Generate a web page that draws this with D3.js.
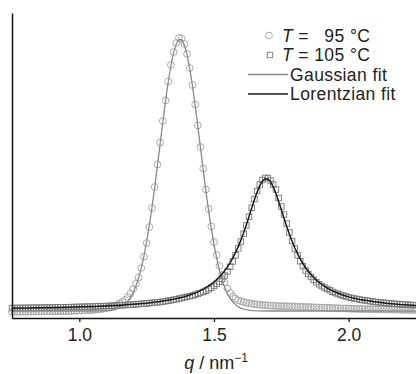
<!DOCTYPE html>
<html>
<head>
<meta charset="utf-8">
<script src="https://cdn.jsdelivr.net/npm/d3@7"></script>
<style>
  html, body { margin: 0; padding: 0; background: #fff; }
  svg { display: block; font-family: "Liberation Sans", Arial, sans-serif; }
</style>
</head>
<body>
<svg id="chart" width="416" height="374"></svg>
<script>
// ---- data (intensity in arbitrary units) ----
const q = [0.75,0.76,0.77,0.78,0.79,0.80,0.81,0.82,0.83,0.84,0.85,0.86,0.87,0.88,0.89,0.90,0.91,0.92,0.93,0.94,
0.95,0.96,0.97,0.98,0.99,1.00,1.01,1.02,1.03,1.04,1.05,1.06,1.07,1.08,1.09,1.10,1.11,1.12,1.13,1.14,
1.15,1.16,1.17,1.18,1.19,1.20,1.21,1.22,1.23,1.24,1.25,1.26,1.27,1.28,1.29,1.30,1.31,1.32,1.33,1.34,
1.35,1.36,1.37,1.38,1.39,1.40,1.41,1.42,1.43,1.44,1.45,1.46,1.47,1.48,1.49,1.50,1.51,1.52,1.53,1.54,
1.55,1.56,1.57,1.58,1.59,1.60,1.61,1.62,1.63,1.64,1.65,1.66,1.67,1.68,1.69,1.70,1.71,1.72,1.73,1.74,
1.75,1.76,1.77,1.78,1.79,1.80,1.81,1.82,1.83,1.84,1.85,1.86,1.87,1.88,1.89,1.90,1.91,1.92,1.93,1.94,
1.95,1.96,1.97,1.98,1.99,2.00,2.01,2.02,2.03,2.04,2.05,2.06,2.07,2.08,2.09,2.10,2.11,2.12,2.13,2.14,
2.15,2.16,2.17,2.18,2.19,2.20,2.21,2.22,2.23,2.24,2.25];

// T = 95 °C (circles)
const intensity95 = [62,62,62,63,63,63,63,64,64,64,65,65,65,66,66,67,67,68,68,69,
70,70,71,72,73,74,75,76,78,79,81,83,86,89,93,98,104,111,120,131,
144,160,181,210,246,290,342,405,500,615,750,910,1100,1310,1535,1755,1970,2175,2365,2530,
2660,2750,2800,2795,2740,2640,2500,2330,2135,1925,1710,1495,1285,1090,915,760,630,520,430,355,
295,250,215,193,178,168,160,153,148,143,139,136,133,130,128,126,124,123,121,120,
119,118,117,116,115,114,113,112,111,110,109,108,107,106,105,104,103,102,101,100,
99,98,97,96,95,94,93,92,91,90,90,89,89,88,88,87,87,86,86,85,
85,84,84,83,83,82,82,81,81,80,80];

// T = 105 °C (squares)
const intensity105 = [100,100,100,101,101,101,102,102,102,103,103,103,104,104,105,105,106,106,107,107,
108,108,109,110,110,111,112,112,113,114,115,116,117,118,119,120,121,122,124,125,
126,128,129,131,133,135,137,139,141,143,146,149,152,155,158,160,164,168,173,178,
183,188,194,200,206,212,218,225,233,242,251,261,273,287,303,321,341,364,392,425,
465,512,566,627,695,765,843,926,1013,1102,1190,1270,1335,1380,1400,1400,1375,1335,1285,1200,
1115,1035,945,855,770,695,628,568,518,475,440,410,383,359,338,319,304,290,277,262,
250,240,231,223,215,208,201,195,190,185,180,176,172,168,164,161,158,155,152,149,
147,144,142,140,138,136,134,132,130,129,127];

// Gaussian fit (T = 95 °C)
const gaussFitQ = [0.75,1.00,1.05,1.08,1.09,1.10,1.11,1.12,1.13,1.14,1.15,1.16,1.17,1.18,1.19,1.20,1.21,1.22,1.23,1.24,
1.25,1.26,1.27,1.28,1.29,1.30,1.31,1.32,1.33,1.34,1.35,1.36,1.37,1.38,1.39,1.40,1.41,1.42,1.43,1.44,
1.45,1.46,1.47,1.48,1.49,1.50,1.51,1.52,1.53,1.54,1.55,1.56,1.57,1.58,1.59,1.60,1.61,1.62,1.63,1.64,
1.65,1.66,1.67,1.70,2.25];
const gaussFit = [70,70,70,71,72,74,76,79,84,91,101,116,137,166,204,254,319,400,501,621,
763,927,1110,1310,1523,1742,1960,2169,2360,2524,2654,2743,2786,2781,2729,2631,2494,2324,2128,1917,
1698,1480,1269,1072,893,733,596,479,383,305,243,196,159,133,113,99,89,83,78,75,
73,72,71,70,70];

// Lorentzian fit (T = 105 °C)
const lorentzFitQ = [0.75,0.80,0.85,0.90,0.95,1.00,1.05,1.10,1.15,1.20,1.25,1.30,1.35,1.39,1.41,1.43,1.45,1.47,1.49,1.50,
1.51,1.52,1.53,1.54,1.55,1.56,1.57,1.58,1.59,1.60,1.61,1.62,1.63,1.64,1.65,1.66,1.67,1.68,1.69,1.70,
1.71,1.72,1.73,1.74,1.75,1.76,1.77,1.78,1.79,1.80,1.81,1.82,1.83,1.84,1.85,1.86,1.87,1.88,1.89,1.90,
1.92,1.94,1.96,1.98,2.00,2.04,2.09,2.14,2.19,2.25];
const lorentzFit = [100,101,103,106,108,112,116,121,128,137,148,164,187,213,230,249,273,303,339,360,
384,410,440,474,511,554,601,655,714,780,853,931,1014,1099,1183,1259,1324,1370,1393,1390,
1362,1312,1245,1166,1082,998,915,838,767,702,643,591,545,503,467,434,405,379,356,335,
299,271,247,228,211,186,164,148,136,126];

const xTicks = [1.0, 1.5, 2.0];
const xDomain = [0.75, 2.25];
const yDomain = [0, 3050];
const legendLabels = ["95 °C", "105 °C", "Gaussian fit", "Lorentzian fit"];

// ---- drawing ----
(function () {
const svg = d3.select("#chart");
const mLeft = 12, mRight = 416, mTop = 13, mBottom = 318;
const x = d3.scaleLinear().domain(xDomain).range([mLeft, mRight]);
const y = d3.scaleLinear().domain(yDomain).range([mBottom, mTop]);

const circleColor = "#a0a0a0", squareColor = "#777777";
const gaussColor = "#8a8a8a", lorentzColor = "#1a1a1a";

const pts95 = q.map((v, i) => [v, intensity95[i]]);
const pts105 = q.map((v, i) => [v, intensity105[i]]);

svg.append("g").selectAll("circle").data(pts95).join("circle")
  .attr("cx", d => x(d[0])).attr("cy", d => y(d[1])).attr("r", 3.4)
  .attr("fill", "none").attr("stroke", circleColor).attr("stroke-width", 0.9);

const sq = 5.5;
svg.append("g").selectAll("rect").data(pts105).join("rect")
  .attr("x", d => x(d[0]) - sq / 2).attr("y", d => y(d[1]) - sq / 2)
  .attr("width", sq).attr("height", sq)
  .attr("fill", "none").attr("stroke", squareColor).attr("stroke-width", 0.9);

const line = d3.line().x(d => x(d[0])).y(d => y(d[1]));
svg.append("path").datum(gaussFitQ.map((v, i) => [v, gaussFit[i]]))
  .attr("d", line).attr("fill", "none").attr("stroke", gaussColor).attr("stroke-width", 1.3);
svg.append("path").datum(lorentzFitQ.map((v, i) => [v, lorentzFit[i]]))
  .attr("d", line).attr("fill", "none").attr("stroke", lorentzColor).attr("stroke-width", 1.5);

// axes
const xAxis = svg.append("g").attr("transform", `translate(0,${mBottom})`)
  .call(d3.axisBottom(x).tickValues(xTicks).tickFormat(d3.format(".1f"))
    .tickSize(4).tickSizeOuter(0).tickPadding(7));
xAxis.select(".domain").attr("stroke", "#111").attr("stroke-width", 1.5);
xAxis.selectAll(".tick line").attr("stroke", "#111").attr("stroke-width", 1.2);
xAxis.selectAll("text").attr("font-size", 17.5).attr("fill", "#222")
  .attr("font-family", "Liberation Sans, Arial, sans-serif");

const yAxis = svg.append("g").attr("transform", `translate(${mLeft},0)`)
  .call(d3.axisLeft(y).tickValues([]).tickSize(0).tickSizeOuter(0));
yAxis.select(".domain").attr("stroke", "#111").attr("stroke-width", 1.5);

// axis title
const title = svg.append("text").attr("x", 216).attr("y", 369)
  .attr("text-anchor", "middle").attr("font-size", 18).attr("fill", "#222");
title.append("tspan").attr("font-style", "italic").text("q");
title.append("tspan").text(" / nm");
title.append("tspan").attr("font-size", 12).attr("dy", -7).text("\u22121");

// legend
const lg = svg.append("g").attr("font-size", 17.5).attr("letter-spacing", 0.4).attr("fill", "#222");
const rows = [35.5, 55, 74.5, 94];
lg.append("circle").attr("cx", 269).attr("cy", rows[0]).attr("r", 3.4)
  .attr("fill", "none").attr("stroke", circleColor).attr("stroke-width", 0.9);
lg.append("rect").attr("x", 270 - sq / 2).attr("y", rows[1] - sq / 2).attr("width", sq).attr("height", sq)
  .attr("fill", "none").attr("stroke", squareColor).attr("stroke-width", 0.9);
lg.append("line").attr("x1", 248).attr("x2", 288).attr("y1", rows[2]).attr("y2", rows[2])
  .attr("stroke", gaussColor).attr("stroke-width", 1.3);
lg.append("line").attr("x1", 248).attr("x2", 288).attr("y1", rows[3]).attr("y2", rows[3])
  .attr("stroke", lorentzColor).attr("stroke-width", 1.5);

const t1 = lg.append("text").attr("x", 282).attr("y", rows[0] + 6.3);
t1.append("tspan").attr("font-style", "italic").text("T");
t1.append("tspan").text(" = \u2007" + legendLabels[0]);
const t2 = lg.append("text").attr("x", 282).attr("y", rows[1] + 6.3);
t2.append("tspan").attr("font-style", "italic").text("T");
t2.append("tspan").text(" = " + legendLabels[1]);
lg.append("text").attr("x", 290).attr("y", rows[2] + 6.3).text(legendLabels[2]);
lg.append("text").attr("x", 290).attr("y", rows[3] + 6.3).text(legendLabels[3]);
})();
</script>
</body>
</html>
